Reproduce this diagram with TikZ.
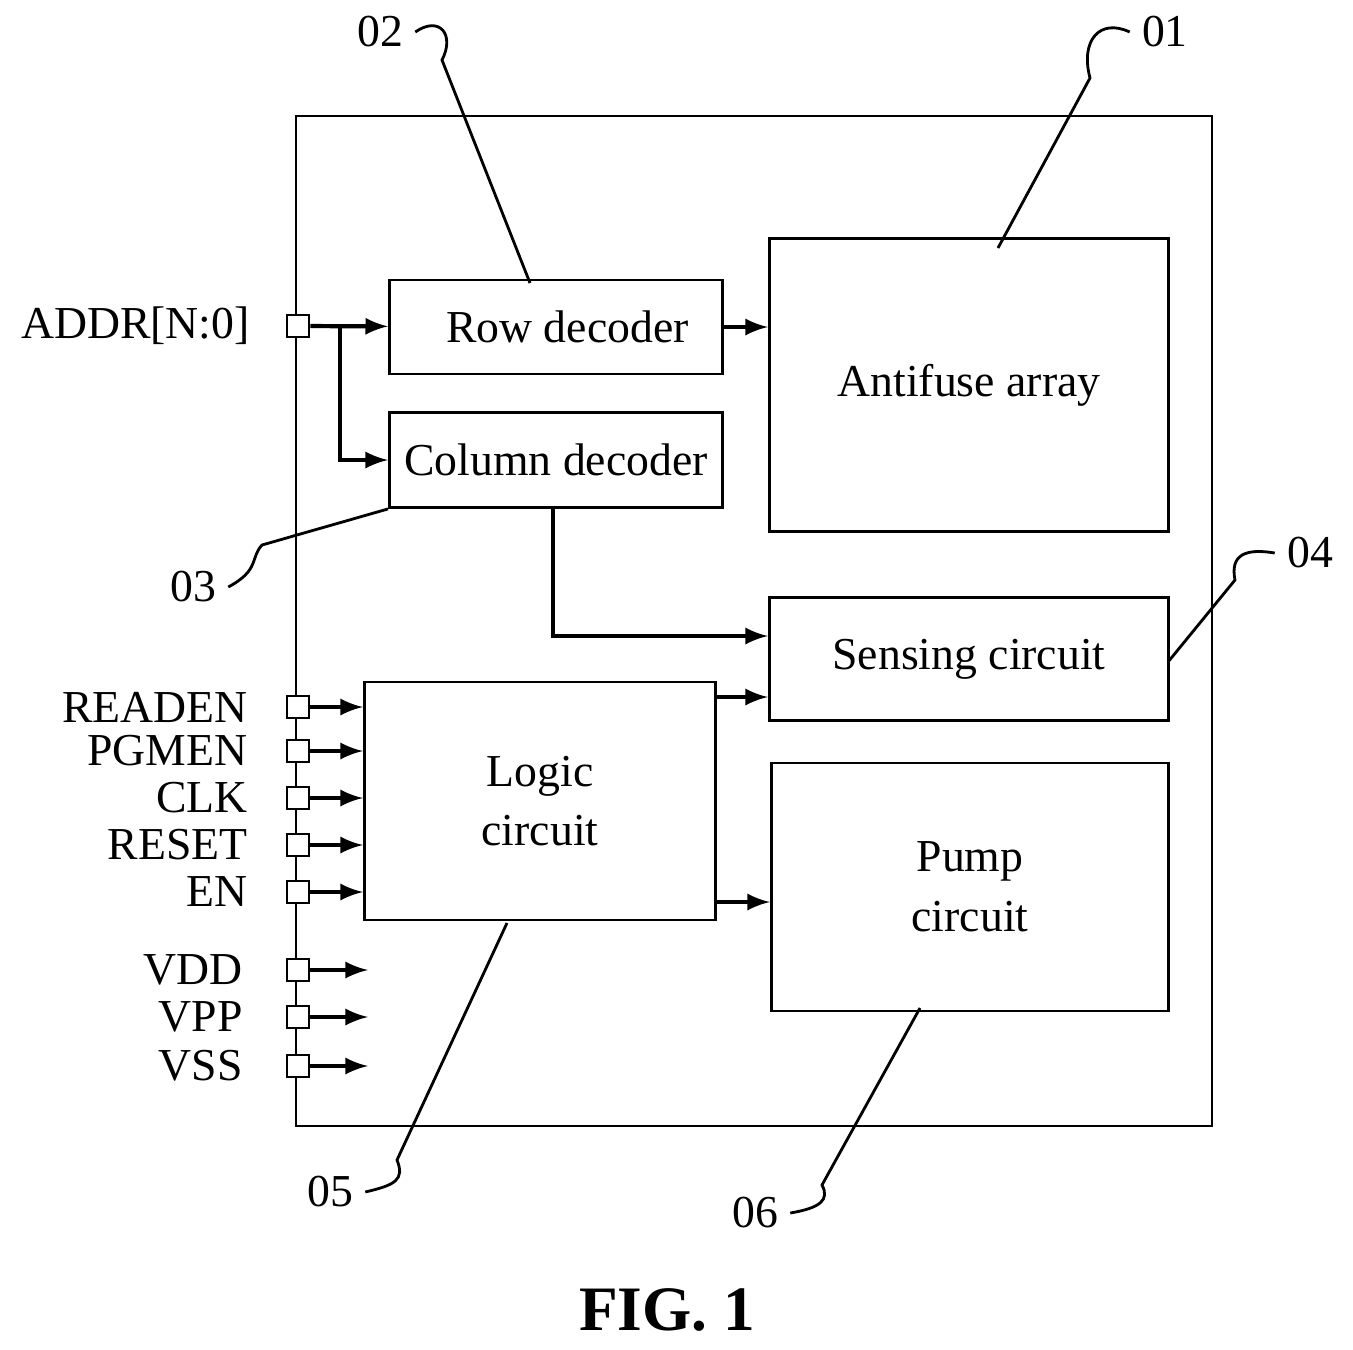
\documentclass[tikz,border=0pt]{standalone}
\usepackage{fontspec}
\setmainfont{Liberation Serif}
\usetikzlibrary{positioning,arrows,calc}
\tikzset{
  box/.style={rectangle, draw=black, thick, align=center, font=\fontsize{13}{17}\selectfont},
  pin/.style={rectangle, draw=black, thick, fill=white, minimum size=2.2mm, inner sep=0pt},
  connect/.style={-latex, line width=1.2pt},
  lbl/.style={font=\fontsize{13}{15}\selectfont},
  lead/.style={thick}
}

\begin{document}
\begin{tikzpicture}[x=0.01cm, y=-0.01cm]
    \useasboundingbox (0,0) rectangle (1353,1350);
    \draw[thick] (296,116) rectangle (1212,1126);

    \node[box, minimum width=3.33cm, minimum height=0.94cm] (Row) at (556,327) {\ \ Row decoder};
    \node[box, minimum width=3.33cm, minimum height=0.95cm] (Col) at (556,460) {Column decoder};
    \node[box, minimum width=3.99cm, minimum height=2.93cm] (Array) at (969,385) {Antifuse array};
    \node[box, minimum width=3.99cm, minimum height=1.23cm] (Sense) at (969,659) {Sensing circuit};
    \node[box, minimum width=3.51cm, minimum height=2.38cm] (Logic) at (540,801) {Logic\\circuit};
    \node[box, minimum width=3.97cm, minimum height=2.48cm] (Pump) at (970,887) {Pump\\circuit};

    % pins
    \node[pin] (Addr) at (298,326) {};
    \node[lbl, anchor=east] at (262,326) {ADDR[N:0]};
    \foreach \name/\y in {READEN/707, PGMEN/751, CLK/798, RESET/845, EN/892}{
      \node[pin] (P\name) at (298,\y) {};
      \node[lbl, anchor=east] at (260,\y) {\name};
      \draw[connect] (P\name) -- (Logic.west |- P\name);
    }
    \foreach \name/\y in {VDD/970, VPP/1017, VSS/1066}{
      \node[pin] (P\name) at (298,\y) {};
      \node[lbl, anchor=east] at (255,\y) {\name};
      \coordinate (E\name) at (368,\y);
      \draw[connect] (P\name) -- (E\name);
    }

    % connections
    \coordinate (Split) at (340,326);
    \draw[connect] (Addr) -- (Row);
    \draw[connect] (Split) |- (Col.west);
    \draw[connect] (Row) -- (Array.west |- Row);
    \draw[connect] (Col.south -| 553,0) |- ($(Sense.west)+(0,-23)$);
    \draw[connect] ($(Logic.east)+(0,-104)$) -- (Sense.west |- 0,697);
    \draw[connect] ($(Logic.east)+(0,101)$) -- (Pump.west |- 0,902);

    % reference labels
    \node[lbl] (L02) at (380,32) {02};
    \draw[lead] (L02.east) .. controls (440,15) and (455,35) .. (442,60) -- (530,283);
    \node[lbl] (L01) at (1165,32) {01};
    \draw[lead] (L01.west) .. controls (1100,18) and (1080,40) .. (1090,78) -- (998,248);
    \node[lbl] (L03) at (193,587) {03};
    \draw[lead] (L03.east) .. controls (260,570) and (250,558) .. (262,545) -- (Col.south west);
    \node[lbl] (L04) at (1310,553) {04};
    \draw[lead] (L04.west) .. controls (1245,548) and (1230,555) .. (1235,580) -- (1168,662);
    \node[lbl] (L05) at (330,1192) {05};
    \draw[lead] (L05.east) .. controls (395,1185) and (405,1180) .. (397,1160) -- (507,923);
    \node[lbl] (L06) at (755,1213) {06};
    \draw[lead] (L06.east) .. controls (820,1208) and (830,1200) .. (822,1185) -- (920,1008);

    \node[font=\fontsize{18}{22}\selectfont\bfseries] (Fig) at (667,1310) {FIG. 1};
\end{tikzpicture}
\end{document}
